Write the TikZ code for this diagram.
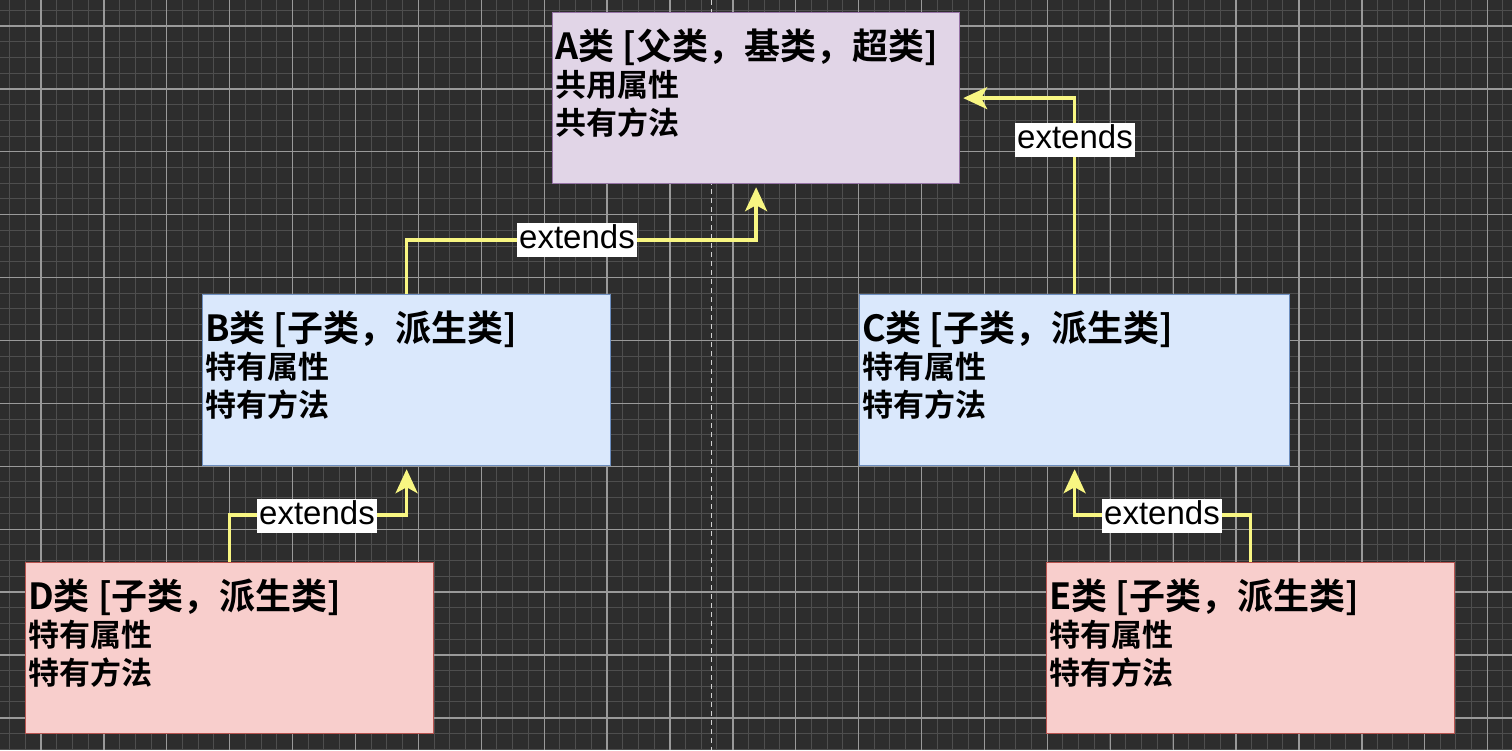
\documentclass[tikz,border=0pt]{standalone}
\usepackage{fontspec}
\newfontfamily\cjk{Noto Sans CJK SC}[BoldFont={Noto Sans CJK SC Bold}]
\setsansfont{Liberation Sans}
\usetikzlibrary{arrows.meta}
\definecolor{bgc}{HTML}{2D2D2D}
\definecolor{minorc}{HTML}{4E4E4E}
\definecolor{majorc}{HTML}{9A9A9A}
\definecolor{afill}{HTML}{E1D5E7}\definecolor{adraw}{HTML}{9673A6}
\definecolor{bfill}{HTML}{DAE8FC}\definecolor{bdraw}{HTML}{6C8EBF}
\definecolor{dfill}{HTML}{F8CECC}\definecolor{ddraw}{HTML}{B85450}
\definecolor{arrc}{HTML}{F8F682}
\tikzset{
  classbox/.style 2 args={draw=#1, fill=#2, line width=1.2pt, anchor=north west,
    inner sep=0pt, minimum width=407pt, minimum height=171pt},
  ttl/.style={anchor=west, inner sep=0pt, font=\cjk\bfseries\fontsize{36}{40}\selectfont},
  bdy/.style={anchor=west, inner sep=0pt, font=\cjk\bfseries\fontsize{31}{36}\selectfont},
  arr/.style={draw=arrc, line width=3.5pt, shorten >=3pt,
    -{Stealth[length=24pt,width=22pt,inset=6pt]}},
  lbl/.style={fill=white, text=black, inner xsep=2pt, inner ysep=0pt,
    text height=25pt, text depth=9pt, font=\sffamily\fontsize{33}{36}\selectfont},
  minorline/.style={draw=minorc, line width=1pt},
  majorline/.style={draw=majorc, line width=1.3pt}
}
\begin{document}
\begin{tikzpicture}[x=1pt,y=-1pt]
\useasboundingbox (0,0) rectangle (1512,750);
\fill[bgc] (0,0) rectangle (1512,750);
% grid
\foreach \i in {0,...,96} { \path[minorline] ({9.56+15.72*\i},0) -- ({9.56+15.72*\i},750); }
\foreach \j in {0,...,47} { \path[minorline] (0,{10.28+15.72*\j}) -- (1512,{10.28+15.72*\j}); }
\foreach \i in {0,...,23} { \path[majorline] ({41+62.9*\i},0) -- ({41+62.9*\i},750); }
\foreach \j in {0,...,11} { \path[majorline] (0,{26+62.9*\j}) -- (1512,{26+62.9*\j}); }
\draw[white!82!black, line width=1.2pt, dash pattern=on 5pt off 4pt] (711.7,0) -- (711.7,750);
% boxes
\node[classbox={adraw}{afill}, minimum width=407pt] (A) at (552,12) {};
\node[classbox={bdraw}{bfill}, minimum width=408pt] (B) at (202,294) {};
\node[classbox={bdraw}{bfill}, minimum width=430pt] (C) at (859,294) {};
\node[classbox={ddraw}{dfill}, minimum width=408pt] (D) at (25,562) {};
\node[classbox={ddraw}{dfill}, minimum width=408pt] (E) at (1046,562) {};
% texts
\node[ttl] (At) at (555,47) {A类 [父类，基类，超类]};
\node[bdy] (A1) at (555,85) {共用属性};
\node[bdy] (A2) at (555,123) {共有方法};
\node[ttl] (Bt) at (205,329) {B类 [子类，派生类]};
\node[bdy] (B1) at (205,367) {特有属性};
\node[bdy] (B2) at (205,405) {特有方法};
\node[ttl] (Ct) at (862,329) {C类 [子类，派生类]};
\node[bdy] (C1) at (862,367) {特有属性};
\node[bdy] (C2) at (862,405) {特有方法};
\node[ttl] (Dt) at (28,597) {D类 [子类，派生类]};
\node[bdy] (D1) at (28,635) {特有属性};
\node[bdy] (D2) at (28,673) {特有方法};
\node[ttl] (Et) at (1049,597) {E类 [子类，派生类]};
\node[bdy] (E1) at (1049,635) {特有属性};
\node[bdy] (E2) at (1049,673) {特有方法};
% connectors
\coordinate (ba) at (0,240);
\coordinate (db) at (0,515);
\draw[arr] (B.north) -- (B.north |- ba) -| (A.south);
\draw[arr] (C.north) |- (A.east);
\draw[arr] (D.north) -- (D.north |- db) -| (B.south);
\draw[arr] (E.north) -- (E.north |- db) -| (C.south);
% labels
\node[lbl] (l1) at (577,240) {extends};
\node[lbl] (l2) at (1075,140) {extends};
\node[lbl] (l3) at (317,516) {extends};
\node[lbl] (l4) at (1162,516) {extends};
\end{tikzpicture}
\end{document}
